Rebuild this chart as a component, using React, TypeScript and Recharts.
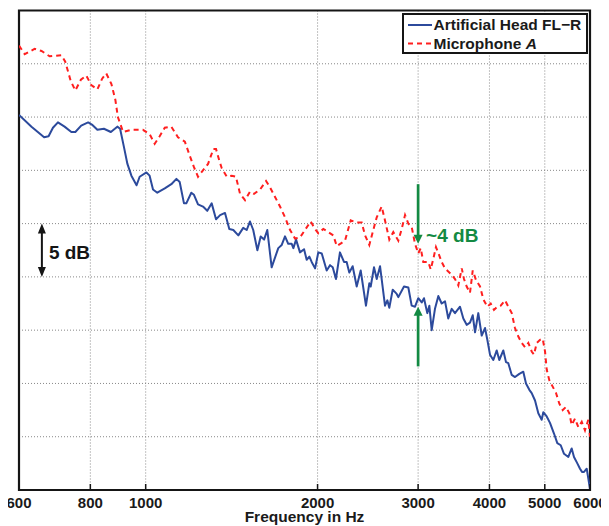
import React from 'react';
import { LineChart, Line, XAxis, YAxis, CartesianGrid, ReferenceArea, ReferenceLine } from 'recharts';

const headFreq = [600, 631, 664, 676, 688, 702, 721, 741, 753, 771, 793, 805, 823, 845, 869, 883, 892, 902, 916, 929, 944, 964, 976, 1003, 1016, 1030, 1048, 1080, 1109, 1132, 1147, 1167, 1178, 1202, 1215, 1235, 1260, 1282, 1305, 1328, 1350, 1377, 1401, 1424, 1453, 1482, 1503, 1523, 1543, 1569, 1590, 1612, 1633, 1662, 1707, 1731, 1754, 1777, 1802, 1814, 1834, 1863, 1894, 1914, 1935, 1953, 1980, 2006, 2034, 2075, 2103, 2126, 2154, 2189, 2225, 2249, 2273, 2304, 2342, 2380, 2431, 2464, 2478, 2511, 2539, 2573, 2625, 2650, 2671, 2708, 2752, 2770, 2834, 2884, 2923, 2963, 3002, 3044, 3072, 3113, 3139, 3169, 3211, 3255, 3299, 3344, 3388, 3435, 3481, 3552, 3600, 3649, 3698, 3739, 3774, 3824, 3877, 3929, 3966, 4009, 4063, 4119, 4162, 4230, 4276, 4316, 4376, 4434, 4512, 4585, 4635, 4698, 4743, 4807, 4871, 4938, 4970, 5039, 5106, 5189, 5259, 5332, 5403, 5498, 5573, 5625, 5701, 5763, 5810, 5857, 5921, 5983, 6000];
const headLevel = [35.2, 34.1, 33.1, 33.2, 34.0, 34.5, 34.1, 33.6, 33.6, 34.2, 34.5, 34.3, 33.8, 33.9, 33.6, 33.9, 34.1, 33.9, 32.2, 30.6, 29.5, 28.6, 29.4, 29.8, 29.5, 28.2, 27.9, 28.3, 28.7, 29.2, 28.9, 26.9, 26.9, 27.9, 27.7, 26.8, 26.6, 26.2, 26.9, 25.4, 25.8, 26.0, 24.5, 24.4, 23.9, 24.6, 24.4, 25.2, 24.4, 22.5, 23.8, 23.5, 24.4, 20.9, 22.7, 23.0, 23.8, 23.1, 23.1, 22.7, 23.5, 22.3, 22.6, 21.6, 21.9, 21.4, 20.8, 22.3, 22.2, 20.6, 21.1, 20.9, 19.8, 22.3, 21.4, 21.4, 20.4, 21.0, 19.1, 20.6, 17.3, 19.4, 19.1, 20.9, 19.8, 21.0, 17.3, 17.8, 17.1, 18.8, 18.4, 18.1, 19.1, 19.0, 17.3, 17.2, 18.0, 17.6, 18.0, 16.6, 17.3, 15.0, 17.0, 18.2, 17.5, 17.7, 16.1, 17.0, 16.6, 17.2, 16.1, 15.5, 15.7, 16.4, 14.8, 16.6, 14.5, 15.2, 14.1, 12.7, 12.2, 13.1, 12.2, 13.1, 12.0, 11.9, 10.8, 10.6, 10.9, 11.1, 10.0, 9.4, 9.1, 8.4, 7.2, 6.6, 7.3, 6.9, 6.3, 5.3, 4.4, 4.2, 3.4, 3.1, 3.9, 3.1, 2.5, 2.0, 1.7, 1.7, 2.0, 0.5, 0.1];

const micFreq = [600, 614, 639, 657, 679, 712, 723, 739, 753, 770, 787, 803, 823, 839, 853, 871, 885, 894, 913, 944, 989, 1016, 1037, 1058, 1080, 1109, 1139, 1171, 1194, 1215, 1235, 1260, 1286, 1314, 1328, 1346, 1359, 1387, 1415, 1439, 1463, 1493, 1523, 1548, 1586, 1625, 1651, 1685, 1719, 1754, 1790, 1826, 1863, 1901, 1945, 1980, 2006, 2047, 2089, 2131, 2161, 2205, 2234, 2286, 2342, 2390, 2422, 2464, 2504, 2539, 2590, 2625, 2671, 2714, 2770, 2808, 2846, 2884, 2923, 2963, 3002, 3032, 3063, 3126, 3156, 3190, 3224, 3268, 3299, 3344, 3388, 3435, 3481, 3528, 3577, 3610, 3649, 3698, 3739, 3789, 3851, 3902, 3966, 4020, 4074, 4129, 4186, 4259, 4316, 4376, 4434, 4494, 4556, 4617, 4679, 4743, 4787, 4840, 4905, 4958, 5005, 5039, 5092, 5162, 5232, 5302, 5375, 5447, 5520, 5573, 5648, 5724, 5803, 5880, 5959, 6000];
const micLevel = [41.7, 40.9, 41.4, 41.2, 40.7, 40.8, 40.2, 38.4, 37.5, 38.5, 38.9, 38.0, 37.6, 38.6, 39.1, 38.1, 36.6, 35.0, 33.6, 33.8, 33.8, 33.4, 32.5, 33.2, 34.0, 34.1, 33.1, 32.7, 31.4, 30.3, 29.4, 30.0, 30.6, 32.0, 32.0, 30.9, 30.2, 29.4, 29.5, 29.4, 27.8, 27.2, 28.0, 27.8, 28.2, 29.0, 28.4, 27.5, 26.6, 25.6, 24.4, 23.6, 23.7, 24.4, 25.2, 24.5, 24.1, 24.5, 24.2, 23.9, 22.9, 23.2, 23.4, 25.3, 25.1, 25.1, 23.9, 23.0, 24.4, 25.6, 26.6, 25.3, 23.5, 24.2, 23.4, 24.5, 25.8, 25.0, 24.7, 23.1, 22.2, 22.7, 21.4, 21.4, 20.7, 21.7, 22.8, 22.0, 21.4, 20.8, 20.5, 20.2, 19.8, 19.2, 20.8, 19.8, 19.1, 18.5, 20.6, 19.7, 19.1, 17.9, 17.2, 17.5, 16.9, 17.2, 17.3, 17.8, 17.2, 16.6, 15.2, 14.4, 13.8, 13.4, 13.8, 13.0, 12.7, 13.8, 14.1, 14.2, 13.0, 11.3, 10.3, 9.7, 9.1, 8.1, 7.5, 7.8, 7.2, 6.1, 6.7, 5.9, 6.4, 5.6, 6.6, 5.0];

const xTicks = [600, 800, 1000, 2000, 3000, 4000, 5000, 6000];
const yTicks = [0, 5, 10, 15, 20, 25, 30, 35, 40, 45];
const headName = 'Artificial Head FL\u2212R';
const micName = 'Microphone';
const micSuffix = 'A';
const xLabel = 'Frequency in Hz';
const scaleLabel = '5 dB';
const diffLabel = '~4 dB';

// annotation anchors (data space)
const scaleArrowFreq = 658;
const scaleArrowRange = [20, 25];
const diffFreq = 3000;
const diffTopArrow = [28.7, 23.1];
const diffBottomArrow = [11.6, 17.2];

const headData = headFreq.map((f, i) => ({ f, v: headLevel[i] }));
const micData = micFreq.map((f, i) => ({ f, v: micLevel[i] }));

const FONT = '"Liberation Sans", Arial, Helvetica, sans-serif';
const BLUE = '#2c4a9c';
const RED = '#ff1f1f';
const GREEN = '#138a43';
const INK = '#151515';

const BottomTick = (props: any) => {
  const { x, y, payload } = props;
  return (
    <g>
      <line x1={x} x2={x} y1={y} y2={y - 6} stroke={INK} strokeWidth={1.5} />
      <text x={x} y={y + 17.5} textAnchor="middle" fontSize={15} fontWeight="bold" fill="#1a1a1a">
        {payload.value}
      </text>
    </g>
  );
};
const TopTick = (props: any) => {
  const { x, y } = props;
  return <line x1={x} x2={x} y1={y} y2={y + 6} stroke={INK} strokeWidth={1.5} />;
};
const LeftTick = (props: any) => {
  const { x, y } = props;
  return <line x1={x} x2={x + 6} y1={y} y2={y} stroke={INK} strokeWidth={1.5} />;
};
const RightTick = (props: any) => {
  const { x, y } = props;
  return <line x1={x} x2={x - 6} y1={y} y2={y} stroke={INK} strokeWidth={1.5} />;
};

const ScaleArrow = (p: any) => {
  const { x1, y1, y2 } = p;
  const top = Math.min(y1, y2);
  const bot = Math.max(y1, y2);
  const x = x1;
  const h = 10;
  const w = 4;
  return (
    <g>
      <line x1={x} x2={x} y1={top + h - 2} y2={bot - h + 2} stroke={INK} strokeWidth={2} />
      <polygon points={`${x},${top} ${x - w},${top + h} ${x + w},${top + h}`} fill={INK} />
      <polygon points={`${x},${bot} ${x - w},${bot - h} ${x + w},${bot - h}`} fill={INK} />
      <text x={x + 7} y={(top + bot) / 2 + 2} dominantBaseline="central" fontSize={19} fontWeight="bold" fill={INK}>
        {scaleLabel}
      </text>
    </g>
  );
};

const GreenArrow = (withLabel: boolean) => (p: any) => {
  const { x1, y1, y2 } = p;
  const x = x1;
  const dir = y2 > y1 ? 1 : -1;
  const h = 9;
  const w = 4.5;
  return (
    <g>
      <line x1={x} x2={x} y1={y1} y2={y2 - dir * (h - 1)} stroke={GREEN} strokeWidth={2.7} />
      <polygon points={`${x},${y2} ${x - w},${y2 - dir * h} ${x + w},${y2 - dir * h}`} fill={GREEN} />
      {withLabel ? (
        <text x={x + 8} y={y2 - 8} dominantBaseline="central" fontSize={19} fontWeight="bold" fill={GREEN}>
          {diffLabel}
        </text>
      ) : null}
    </g>
  );
};

export default function App() {
  return (
    <div style={{ position: 'relative', width: 609, height: 526, margin: '-8px 0 0 -8px', fontFamily: FONT, background: '#fff' }}>
      <LineChart width={609} height={526} margin={{ top: 10.5, right: 19, left: 19, bottom: 0 }}>
        <CartesianGrid stroke="#888888" strokeDasharray="1 2" strokeWidth={1} />
        <XAxis
          dataKey="f"
          type="number"
          scale="log"
          domain={[600, 6000]}
          allowDataOverflow
          ticks={xTicks}
          interval={0}
          height={36}
          tickSize={0}
          tickMargin={0}
          tickLine={false}
          axisLine={false}
          tick={<BottomTick />}
          label={{ value: xLabel, position: 'insideBottom', offset: 4.5, fontSize: 15.5, fontWeight: 'bold', fill: '#1a1a1a' }}
        />
        <XAxis
          xAxisId="top"
          orientation="top"
          dataKey="f"
          type="number"
          scale="log"
          domain={[600, 6000]}
          allowDataOverflow
          ticks={xTicks}
          interval={0}
          height={0}
          tickSize={0}
          tickMargin={0}
          tickLine={false}
          axisLine={false}
          tick={<TopTick />}
        />
        <YAxis
          type="number"
          domain={[0, 45]}
          ticks={yTicks}
          interval={0}
          width={0}
          tickSize={0}
          tickMargin={0}
          tickLine={false}
          axisLine={false}
          allowDataOverflow
          tick={<LeftTick />}
        />
        <YAxis
          yAxisId="right"
          orientation="right"
          type="number"
          domain={[0, 45]}
          ticks={yTicks}
          interval={0}
          width={0}
          tickSize={0}
          tickMargin={0}
          tickLine={false}
          axisLine={false}
          allowDataOverflow
          tick={<RightTick />}
        />
        <Line
          data={headData}
          dataKey="v"
          name={headName}
          stroke={BLUE}
          strokeWidth={2}
          dot={false}
          isAnimationActive={false}
          strokeLinejoin="round"
        />
        <Line
          data={micData}
          dataKey="v"
          name={micName}
          stroke={RED}
          strokeWidth={2}
          strokeDasharray="5 4"
          dot={false}
          isAnimationActive={false}
        />
        <ReferenceLine
          segment={[{ x: scaleArrowFreq, y: scaleArrowRange[0] }, { x: scaleArrowFreq, y: scaleArrowRange[1] }]}
          stroke={INK}
          shape={ScaleArrow}
        />
        <ReferenceLine
          segment={[{ x: diffFreq, y: diffTopArrow[0] }, { x: diffFreq, y: diffTopArrow[1] }]}
          stroke={GREEN}
          shape={GreenArrow(true)}
        />
        <ReferenceLine
          segment={[{ x: diffFreq, y: diffBottomArrow[0] }, { x: diffFreq, y: diffBottomArrow[1] }]}
          stroke={GREEN}
          shape={GreenArrow(false)}
        />
        <ReferenceArea x1={600} x2={6000} y1={0} y2={45} fill="none" fillOpacity={0} stroke={INK} strokeWidth={2.2} />
      </LineChart>
      <div
        style={{
          position: 'absolute',
          left: 401.5,
          top: 13,
          width: 186,
          height: 41,
          boxSizing: 'border-box',
          border: `2px solid ${INK}`,
          background: '#fff',
          fontSize: 15.5,
          fontWeight: 'bold',
          color: '#1a1a1a',
        }}
      >
        <svg width={26} height={40} style={{ position: 'absolute', left: 3, top: 0 }}>
          <line x1={1} x2={25} y1={10} y2={10} stroke={BLUE} strokeWidth={2} />
          <line x1={1} x2={25} y1={28.5} y2={28.5} stroke={RED} strokeWidth={2} strokeDasharray="5 4" />
        </svg>
        <div style={{ position: 'absolute', left: 30, top: 1, lineHeight: '18px', whiteSpace: 'nowrap' }}>{headName}</div>
        <div style={{ position: 'absolute', left: 30, top: 19.5, lineHeight: '18px', whiteSpace: 'nowrap' }}>
          {micName} <i>{micSuffix}</i>
        </div>
      </div>
    </div>
  );
}
